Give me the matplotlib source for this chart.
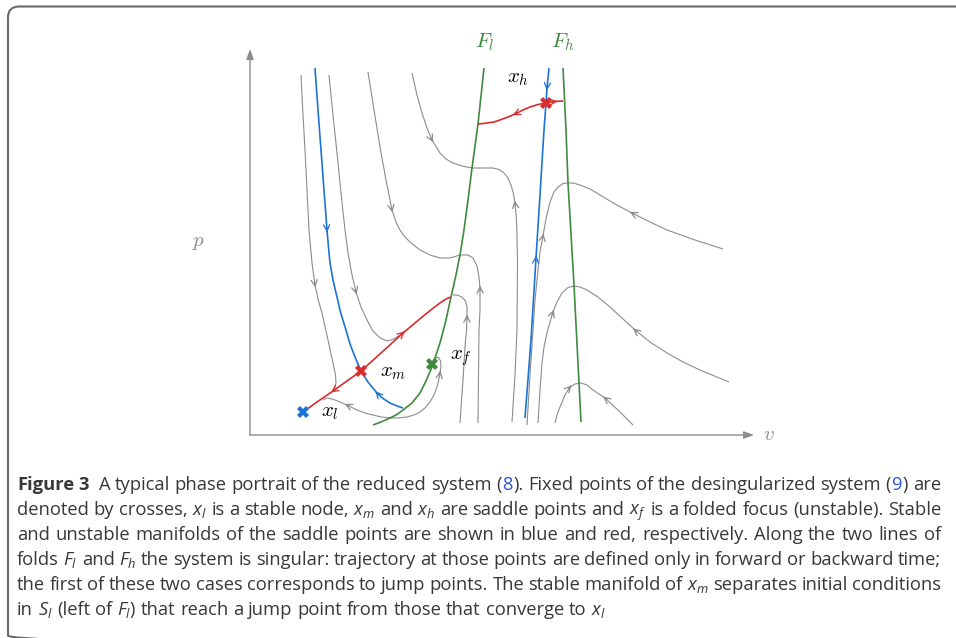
import numpy as np
import matplotlib
matplotlib.use("Agg")
import matplotlib.pyplot as plt
from matplotlib.patches import FancyBboxPatch

matplotlib.rcParams['font.family'] = ['Open Sans', 'DejaVu Sans']
matplotlib.rcParams['mathtext.fontset'] = 'custom'
matplotlib.rcParams['mathtext.rm'] = 'Open Sans'
matplotlib.rcParams['mathtext.it'] = 'Open Sans:italic'
matplotlib.rcParams['mathtext.bf'] = 'Open Sans:bold'

GRAY = '#8c8c8c'
BLUE = '#1c74d4'
RED = '#d92c2c'
GREEN = '#3f8a3f'
TEXT = '#383838'
LINK = '#2f55d4'
FRAME = '#6a6a6a'
CAP_FS = 13.2

# lines of folds F_l, F_h  (v, p)
fold_l = [(2.46, 0.20), (2.62, 0.26), (2.80, 0.34), (2.94, 0.41), (3.06, 0.50),
          (3.24, 0.64), (3.40, 0.84), (3.52, 1.08), (3.64, 1.36), (3.72, 1.60),
          (3.80, 1.84), (3.92, 2.30), (4.02, 2.76), (4.12, 3.20), (4.20, 3.60),
          (4.28, 4.10), (4.36, 4.70), (4.44, 5.34), (4.56, 6.22), (4.68, 7.34)]
fold_h = [(6.26, 7.34), (6.32, 6.10), (6.36, 5.04), (6.48, 3.00), (6.62, 0.26)]

# fixed points
x_l = (1.06, 0.46)
x_m = (2.22, 1.28)
x_h = (5.92, 6.64)
x_f = (3.64, 1.42)

# stable manifolds (blue)
stable_m = [(1.30, 7.34), (1.36, 6.50), (1.42, 5.70), (1.48, 4.90), (1.54, 4.10),
            (1.57, 3.76), (1.60, 3.44), (1.66, 3.10), (1.74, 2.76), (1.82, 2.42),
            (1.92, 2.10), (2.00, 1.82), (2.10, 1.56), (2.22, 1.28), (2.36, 1.06),
            (2.54, 0.84), (2.66, 0.73), (2.80, 0.64), (2.94, 0.58), (3.06, 0.54)]
stable_h = [(5.98, 7.34), (5.94, 6.94), (5.92, 6.64), (5.88, 6.10), (5.80, 4.80),
            (5.72, 3.54), (5.62, 1.90), (5.50, 0.34)]

# unstable manifolds (red)
unstable_m = [(1.06, 0.46), (1.34, 0.66), (1.66, 0.88), (1.94, 1.08), (2.22, 1.28),
              (2.42, 1.46), (2.62, 1.64), (2.84, 1.84), (3.06, 2.04), (3.30, 2.24),
              (3.54, 2.44), (3.68, 2.55), (3.80, 2.64), (3.92, 2.72), (4.02, 2.76)]
unstable_h = [(4.56, 6.22), (4.66, 6.23), (4.74, 6.24), (4.88, 6.26), (5.00, 6.30),
              (5.16, 6.36), (5.30, 6.42), (5.46, 6.50), (5.60, 6.56), (5.76, 6.61),
              (5.92, 6.64), (6.10, 6.67), (6.26, 6.68)]

# other trajectories (gray)
traj_1 = [(1.02, 7.20), (1.06, 6.40), (1.10, 5.70), (1.14, 4.90), (1.18, 4.10),
          (1.24, 3.44), (1.30, 3.00), (1.36, 2.72), (1.44, 2.44), (1.56, 1.90),
          (1.66, 1.44), (1.71, 1.20), (1.72, 1.04), (1.68, 0.90)]
traj_2 = [(1.58, 7.20), (1.66, 6.40), (1.74, 5.64), (1.82, 4.84), (1.90, 4.10),
          (1.96, 3.64), (2.04, 3.20), (2.12, 2.86), (2.22, 2.56), (2.34, 2.30),
          (2.46, 2.08), (2.60, 1.94), (2.74, 1.88), (2.88, 1.92), (3.06, 2.04)]
traj_3 = [(2.36, 7.26), (2.48, 6.50), (2.60, 5.76), (2.72, 5.10), (2.84, 4.50),
          (2.92, 4.26), (3.00, 4.10), (3.10, 3.96), (3.20, 3.86), (3.40, 3.70),
          (3.60, 3.60), (3.80, 3.54), (4.00, 3.54), (4.20, 3.60), (4.36, 3.60),
          (4.46, 3.54), (4.54, 3.38), (4.58, 3.16), (4.60, 2.94), (4.60, 2.50),
          (4.58, 2.10), (4.57, 1.20), (4.56, 0.24)]
traj_4 = [(3.24, 7.24), (3.34, 6.80), (3.44, 6.44), (3.54, 6.14), (3.64, 5.90),
          (3.80, 5.64), (3.92, 5.52), (4.06, 5.44), (4.24, 5.38), (4.44, 5.34),
          (4.66, 5.34), (4.86, 5.34), (4.98, 5.31), (5.08, 5.24), (5.16, 5.14),
          (5.22, 5.00), (5.27, 4.82), (5.30, 4.64), (5.33, 4.30), (5.34, 4.00),
          (5.35, 3.44), (5.34, 2.10), (5.30, 1.20), (5.24, 0.26)]
traj_5 = [(4.20, 0.24), (4.23, 0.70), (4.26, 1.10), (4.30, 1.76), (4.33, 2.10),
          (4.34, 2.36), (4.34, 2.56), (4.31, 2.68), (4.24, 2.76), (4.14, 2.80),
          (4.06, 2.80)]
traj_6 = [(3.64, 1.42), (3.67, 1.50), (3.72, 1.55), (3.77, 1.55), (3.81, 1.48),
          (3.82, 1.38), (3.80, 1.24), (3.77, 1.08), (3.74, 0.96), (3.68, 0.80),
          (3.60, 0.66), (3.50, 0.54), (3.40, 0.46), (3.28, 0.40), (3.14, 0.36),
          (2.96, 0.34), (2.80, 0.34), (2.62, 0.36), (2.46, 0.40), (2.30, 0.44),
          (2.14, 0.50), (1.94, 0.60), (1.80, 0.66), (1.70, 0.70), (1.60, 0.73),
          (1.54, 0.74), (1.46, 0.70)]
traj_7 = [(5.54, 0.20), (5.60, 1.20), (5.66, 2.10), (5.70, 2.70), (5.76, 3.30),
          (5.80, 3.66), (5.86, 3.98), (5.92, 4.32), (6.00, 4.66), (6.08, 4.86),
          (6.16, 4.96), (6.26, 5.03), (6.34, 5.04), (6.46, 5.04), (6.60, 5.00),
          (6.80, 4.92), (7.00, 4.80), (7.30, 4.62), (7.64, 4.44), (8.00, 4.26),
          (8.34, 4.10), (8.90, 3.90), (9.46, 3.72)]
traj_8 = [(5.76, 0.24), (5.80, 0.90), (5.84, 1.44), (5.88, 1.76), (5.94, 2.04),
          (6.00, 2.26), (6.06, 2.46), (6.14, 2.66), (6.24, 2.84), (6.36, 2.95),
          (6.48, 2.98), (6.60, 2.96), (6.74, 2.90), (6.96, 2.76), (7.20, 2.56),
          (7.46, 2.32), (7.70, 2.10), (8.00, 1.86), (8.34, 1.64), (8.66, 1.46),
          (9.00, 1.30), (9.58, 1.06)]
traj_9 = [(6.10, 0.24), (6.14, 0.40), (6.20, 0.56), (6.30, 0.80), (6.40, 0.96),
          (6.50, 1.02), (6.62, 1.04), (6.74, 1.00), (6.86, 0.90), (7.10, 0.74),
          (7.40, 0.46), (7.66, 0.20)]

# arrows on curves: (curve, point index, +1 along list order / -1 against)
arrows_gray = [(traj_1, 6, 1), (traj_2, 7, 1), (traj_3, 4, 1), (traj_3, 18, -1),
               (traj_4, 4, 1), (traj_4, 17, -1), (traj_5, 5, 1), (traj_6, 6, -1),
               (traj_6, 21, 1), (traj_7, 6, 1), (traj_7, 18, -1), (traj_8, 6, 1),
               (traj_8, 16, -1), (traj_9, 4, 1), (traj_9, 9, -1)]
arrows_blue = [(stable_m, 4, 1), (stable_m, 15, -1), (stable_h, 1, 1), (stable_h, 5, -1)]
arrows_red = [(unstable_m, 2, -1), (unstable_m, 8, 1), (unstable_h, 6, -1),
              (unstable_h, 11, 1)]

caption_lines = [
    "**Figure **3^ A typical phase portrait of the reduced system (#8#). Fixed points "
    "of the desingularized system (#9#) are",
    r"denoted by crosses, $x_l$ is a stable node, $x_m$ and $x_h$ are saddle points "
    r"and $x_f$ is a folded focus (unstable). Stable",
    "and unstable manifolds of the saddle points are shown in blue and red, "
    "respectively. Along the two lines of",
    r"folds $F_l$ and $F_h$ the system is singular: trajectory at those points are "
    r"defined only in forward or backward time;",
    r"the first of these two cases corresponds to jump points. The stable manifold "
    r"of $x_m$ separates initial conditions",
    r"in $S_l$ (left of $F_l$) that reach a jump point from those that converge to $x_l$",
]


def chevron(ax, pts, k, sign, color):
    pts = np.asarray(pts)
    d = (pts[min(k + 1, len(pts) - 1)] - pts[max(k - 1, 0)]) * sign
    d = d / np.hypot(*d)
    ax.annotate('', xy=pts[k] + 0.05 * d, xytext=pts[k] - 0.05 * d,
                arrowprops=dict(arrowstyle='->,head_length=0.45,head_width=0.22',
                                color=color, lw=0.9, shrinkA=0, shrinkB=0))


def curve(ax, pts, color, lw):
    pts = np.asarray(pts)
    ax.plot(pts[:, 0], pts[:, 1], color=color, lw=lw, solid_joinstyle='round',
            solid_capstyle='butt')


def draw_words(ax, x0, y, line, x1=None):
    renderer = ax.figure.canvas.get_renderer()
    items = []
    for w in line.split(' '):
        bold = w.startswith('**')
        wide = w.endswith('^')
        w = w.strip('*^')
        texts = []
        for i, s in enumerate(w.split('#')):
            if not s:
                continue
            t = ax.text(0, y, s, color=LINK if i % 2 else TEXT, fontsize=CAP_FS,
                        fontweight='bold' if bold else 'normal', va='baseline',
                        ha='left', math_fontfamily='custom')
            texts.append(t)
        widths = [t.get_window_extent(renderer).width for t in texts]
        items.append((texts, widths, wide))
    pad = 1.0
    total = sum(sum(ws) + pad * (len(ws) - 1) for _, ws, _ in items)
    extra = sum(5.0 for _, _, b in items if b)
    if x1 is None:
        a = ax.text(0, y, 'a a', fontsize=CAP_FS)
        b = ax.text(0, y, 'aa', fontsize=CAP_FS)
        gap = a.get_window_extent(renderer).width - b.get_window_extent(renderer).width
        a.remove()
        b.remove()
    else:
        gap = (x1 - x0 - total - extra) / (len(items) - 1)
    x = x0
    for texts, widths, wide in items:
        for t, wd in zip(texts, widths):
            t.set_x(x)
            x += wd + pad
        x += gap - pad + (5.0 if wide else 0.0)


def main():
    fig = plt.figure(figsize=(9.56, 6.38), dpi=100)
    bg = fig.add_axes([0, 0, 1, 1])
    bg.set_xlim(0, 956)
    bg.set_ylim(638, 0)
    bg.axis('off')

    # rounded frame; right and bottom edges lie outside the picture
    bg.add_patch(FancyBboxPatch((8, 6.5), 990, 640,
                                boxstyle='round,pad=0,rounding_size=11',
                                fill=False, edgecolor=FRAME, lw=1.5))

    ax = fig.add_axes([250 / 956, (638 - 435) / 638, 510 / 956, 390 / 638])
    ax.set_xlim(0, 10.2)
    ax.set_ylim(0, 7.8)
    ax.axis('off')

    for t in [traj_1, traj_2, traj_3, traj_4, traj_5, traj_6, traj_7, traj_8, traj_9]:
        curve(ax, t, GRAY, 0.8)
    curve(ax, fold_l, GREEN, 1.2)
    curve(ax, fold_h, GREEN, 1.2)
    curve(ax, stable_m, BLUE, 1.2)
    curve(ax, stable_h, BLUE, 1.2)
    curve(ax, unstable_m, RED, 1.2)
    curve(ax, unstable_h, RED, 1.2)

    for pts, k, s in arrows_gray:
        chevron(ax, pts, k, s, GRAY)
    for pts, k, s in arrows_blue:
        chevron(ax, pts, k, s, BLUE)
    for pts, k, s in arrows_red:
        chevron(ax, pts, k, s, RED)

    for pt, c in [(x_l, BLUE), (x_m, RED), (x_h, RED), (x_f, GREEN)]:
        ax.plot(pt[0], pt[1], marker='X', ms=8, mew=0, color=c, zorder=5)

    # axes arrows
    arr = dict(arrowstyle='-|>,head_length=0.6,head_width=0.22', color=GRAY, lw=1.0,
               shrinkA=0, shrinkB=0)
    ax.annotate('', xy=(0, 7.72), xytext=(0, 0), arrowprops=arr)
    ax.annotate('', xy=(10.08, 0), xytext=(0, 0), arrowprops=arr)

    lab = dict(fontsize=15, math_fontfamily='cm', ha='center', va='center')
    ax.text(-1.02, 3.86, r'$p$', color=GRAY, **lab)
    ax.text(10.38, 0.02, r'$v$', color=GRAY, **lab)
    ax.text(4.70, 7.86, r'$F_l$', color=GREEN, **lab)
    ax.text(6.26, 7.86, r'$F_h$', color=GREEN, **lab)
    ax.text(5.36, 7.14, r'$x_h$', color='black', **lab)
    ax.text(2.86, 1.26, r'$x_m$', color='black', **lab)
    ax.text(4.22, 1.54, r'$x_f$', color='black', **lab)
    ax.text(1.60, 0.46, r'$x_l$', color='black', **lab)

    ys = [490, 515, 540, 565, 590, 615]
    for i, line in enumerate(caption_lines):
        draw_words(bg, 17, ys[i], line, 941 if i < 5 else None)

    fig.savefig('out.png', dpi=100)
    plt.close(fig)


if __name__ == "__main__":
    main()
